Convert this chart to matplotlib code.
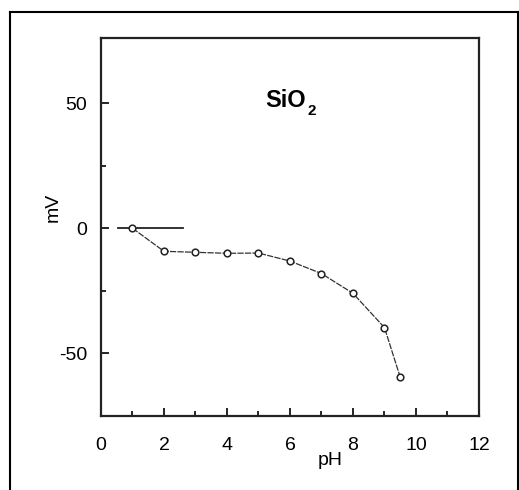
import numpy as np
import matplotlib.pyplot as plt
from matplotlib.lines import Line2D

plt.rcParams['font.family'] = ['Liberation Sans', 'DejaVu Sans']
plt.rcParams['axes.unicode_minus'] = False

ph = [1, 2, 3, 4, 5, 6, 7, 8, 9, 9.5]
mv = [0, -9.2, -9.6, -10, -9.9, -13.1, -18.1, -26, -39.7, -59.5]
ref_x = [0.55, 2.6]
ref_y = [0, 0]

fig = plt.figure(figsize=(5.19, 4.90), dpi=100)
ax = fig.add_axes([0.1946, 0.151, 0.7283, 0.7714])

ax.plot(ref_x, ref_y, color='#222222', lw=1.3)
ax.plot(ph, mv, color='#333333', lw=0.9, ls=(0, (5, 1)),
        marker='o', ms=4.8, mfc='white', mec='#222222', mew=1.1)

ax.set_xlim(0, 12)
ax.set_ylim(-75, 76)
ax.set_xticks(np.arange(0, 13, 2))
ax.set_xticks(np.arange(1, 12, 2), minor=True)
ax.set_yticks([-50, 0, 50])
ax.set_yticks([-25, 25], minor=True)
ax.tick_params(which='both', direction='in', top=False, right=False,
               width=1.2, labelsize=14)
ax.tick_params(which='major', length=6)
ax.tick_params(which='minor', length=3.5)
ax.tick_params(axis='x', pad=15)
ax.tick_params(axis='y', pad=10)
for s in ax.spines.values():
    s.set_linewidth(1.6)
    s.set_color('#222222')

ax.text(5.85, 51, 'SiO', fontsize=17, fontweight='bold',
        ha='center', va='center')
ax.text(6.68, 47, '2', fontsize=11, fontweight='bold',
        ha='center', va='center')

fig.text(53/519, 1 - 207/490, 'mV', rotation=90, fontsize=14,
         ha='center', va='center')
fig.text(330/519, 1 - 460/490, 'pH', fontsize=14, ha='center', va='center')

# outer frame
fig.add_artist(Line2D([10/519, 10/519], [0, 1 - 12/490], color='black', lw=1.5))
fig.add_artist(Line2D([10/519, 1], [1 - 12/490, 1 - 12/490], color='black', lw=1.5))
fig.add_artist(Line2D([518/519, 518/519], [0, 1 - 12/490], color='black', lw=1.5))

fig.savefig('out.png', dpi=100)
